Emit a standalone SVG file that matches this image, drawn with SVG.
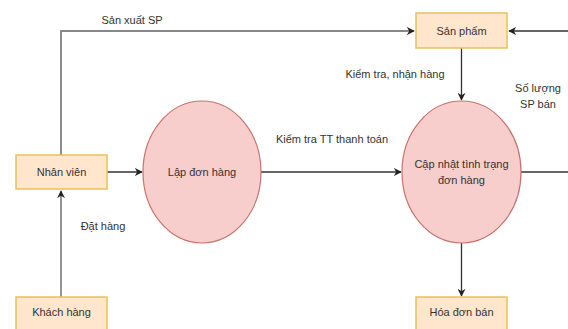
<svg xmlns="http://www.w3.org/2000/svg" width="568" height="329" viewBox="0 0 568 329">
<style>
.box{fill:#ffe6cc;stroke:#e8c15a;stroke-width:1.5}
.proc{fill:#f8cecc;stroke:#c8736e;stroke-width:1.2}
.t{font-family:"Liberation Sans",Arial,sans-serif;font-size:11px;fill:#333;text-anchor:middle}
.c{fill:none;stroke:#333;stroke-width:1.3}
.g{fill:none;stroke:#888;stroke-width:1.8}
</style>
<defs>
<marker id="ah" viewBox="0 0 10 10" refX="9" refY="5" markerWidth="8" markerHeight="8" markerUnits="userSpaceOnUse" orient="auto">
<path d="M0,0 L10,5 L0,10 L3,5 Z" fill="#222"/>
</marker>
</defs>
<rect width="568" height="329" fill="#fff"/>
<g id="connectors">
<path class="g" d="M61,155 V31 H414" marker-end="url(#ah)"/>
<path class="c" d="M61,155 V31" style="stroke:#888"/>
<path class="c" d="M575,172 V31 H509" marker-end="url(#ah)"/>
<path class="c" d="M521,172 H575"/>
<path class="c" d="M461.5,48 V100" marker-end="url(#ah)"/>
<path class="c" d="M107,172 H142" marker-end="url(#ah)"/>
<path class="c" d="M261,172 H401" marker-end="url(#ah)"/>
<path class="g" d="M61,297 V191" marker-end="url(#ah)"/>
<path class="c" d="M461.5,243 V296" marker-end="url(#ah)"/>
<text class="t" x="132" y="24">Sản xuất SP</text>
<text class="t" x="395" y="78">Kiểm tra, nhận hàng</text>
<text class="t" x="538" y="92">Số lượng</text>
<text class="t" x="538" y="108">SP bán</text>
<text class="t" x="332" y="143">Kiểm tra TT thanh toán</text>
<text class="t" x="103" y="230">Đặt hàng</text>
</g>
<g id="san-pham">
<rect class="box" x="416" y="13" width="91" height="35"/>
<text class="t" x="461.5" y="34.5">Sản phẩm</text>
</g>
<g id="nhan-vien">
<rect class="box" x="16" y="155" width="91" height="34"/>
<text class="t" x="61.5" y="176">Nhân viên</text>
</g>
<g id="lap-don-hang">
<ellipse class="proc" cx="202" cy="172" rx="59" ry="71"/>
<text class="t" x="202" y="176">Lập đơn hàng</text>
</g>
<g id="cap-nhat">
<ellipse class="proc" cx="461.5" cy="172" rx="59.5" ry="71"/>
<text class="t" x="461.5" y="168">Cập nhật tình trạng</text>
<text class="t" x="461.5" y="184">đơn hàng</text>
</g>
<g id="khach-hang">
<rect class="box" x="16" y="297" width="91" height="40"/>
<text class="t" x="61.5" y="316">Khách hàng</text>
</g>
<g id="hoa-don-ban">
<rect class="box" x="416" y="297" width="91" height="40"/>
<text class="t" x="461.5" y="316">Hóa đơn bán</text>
</g>
</svg>
